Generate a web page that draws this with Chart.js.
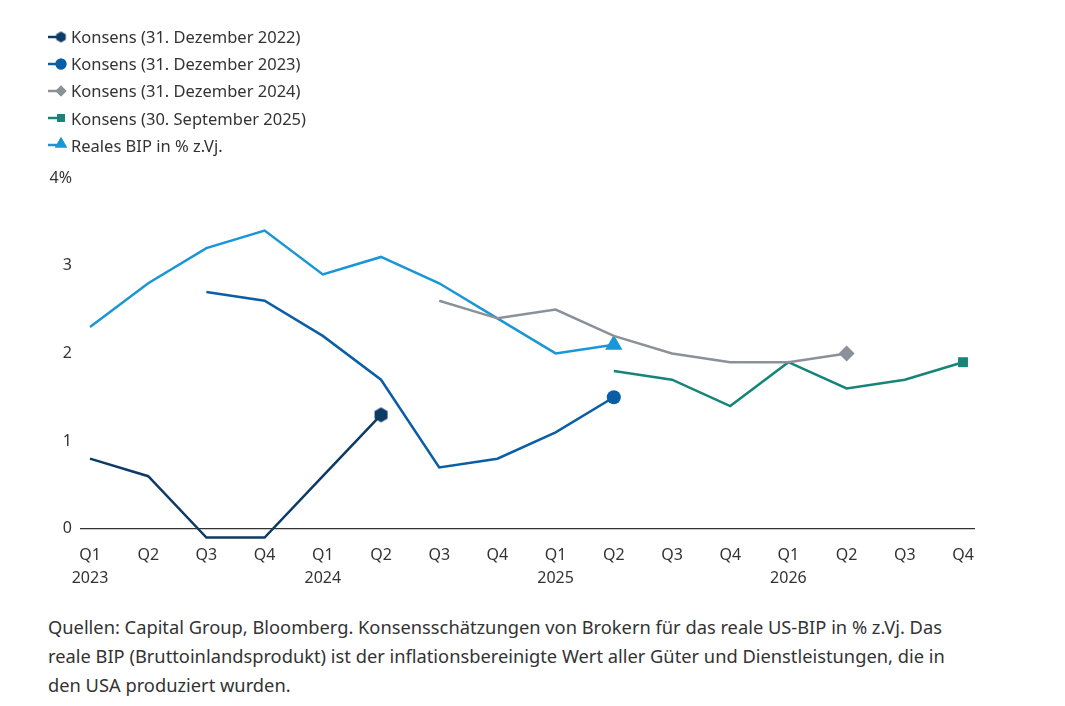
<!DOCTYPE html>
<html>
<head>
<meta charset="utf-8">
<script src="https://cdn.jsdelivr.net/npm/chart.js@4.4.1/dist/chart.umd.min.js"></script>
<style>
  body { margin: 0; background: #fff; font-family: "Noto Sans", Lato, sans-serif; color: #333; }
  #wrap { position: relative; width: 1065px; height: 600px; }
  #legend { position: absolute; left: 46px; top: 23px; }
  .item { height: 27.2px; display: flex; align-items: center; font-size: 16.5px; color: #333; }
  .item canvas { margin-right: 3px; }
  #note { position: absolute; left: 48px; top: 612px; font-size: 18.3px; line-height: 29px; color: #333; white-space: nowrap; }
</style>
</head>
<body>
<div id="wrap">
  <canvas id="chart" width="1065" height="600"></canvas>
  <div id="legend"></div>
</div>
<div id="note">Quellen: Capital Group, Bloomberg. Konsensschätzungen von Brokern für das reale US-BIP in % z.Vj. Das<br>reale BIP (Bruttoinlandsprodukt) ist der inflationsbereinigte Wert aller Güter und Dienstleistungen, die in<br>den USA produziert wurden.</div>
<script>
// Quartale Q1 2023 .. Q4 2026
const quarters = ['Q1','Q2','Q3','Q4','Q1','Q2','Q3','Q4','Q1','Q2','Q3','Q4','Q1','Q2','Q3','Q4'];
const years    = ['2023','','','','2024','','','','2025','','','','2026','','',''];
const yTicks = [0, 1, 2, 3, 4];

const konsens2022 = [0.8, 0.6, -0.1, -0.1, 0.6, 1.3, null, null, null, null, null, null, null, null, null, null];
const konsens2023 = [null, null, 2.7, 2.6, 2.2, 1.7, 0.7, 0.8, 1.1, 1.5, null, null, null, null, null, null];
const konsens2024 = [null, null, null, null, null, null, 2.6, 2.4, 2.5, 2.2, 2.0, 1.9, 1.9, 2.0, null, null];
const konsens2025 = [null, null, null, null, null, null, null, null, null, 1.8, 1.7, 1.4, 1.9, 1.6, 1.7, 1.9];
const realesBIP   = [2.3, 2.8, 3.2, 3.4, 2.9, 3.1, 2.8, 2.4, 2.0, 2.1, null, null, null, null, null, null];

const FONT = '"Noto Sans", Lato, sans-serif';

function hexagon(color, r) {
  const c = document.createElement('canvas');
  c.width = c.height = r * 2 + 2;
  const g = c.getContext('2d');
  g.fillStyle = color;
  g.beginPath();
  for (let i = 0; i < 6; i++) {
    const a = Math.PI / 6 + i * Math.PI / 3;
    const x = r + 1 + r * Math.cos(a), y = r + 1 + r * Math.sin(a);
    i ? g.lineTo(x, y) : g.moveTo(x, y);
  }
  g.closePath();
  g.fill();
  return c;
}

const series = [
  { label: 'Konsens (31. Dezember 2022)', data: konsens2022, color: '#0c3b66', style: hexagon('#0c3b66', 7.5), radius: 7.5 },
  { label: 'Konsens (31. Dezember 2023)', data: konsens2023, color: '#0a5ea6', style: 'circle', radius: 7 },
  { label: 'Konsens (31. Dezember 2024)', data: konsens2024, color: '#8a9198', style: 'rectRot', radius: 8 },
  { label: 'Konsens (30. September 2025)', data: konsens2025, color: '#178479', style: 'rect', radius: 7 },
  { label: 'Reales BIP in % z.Vj.', data: realesBIP, color: '#1996d5', style: 'triangle', radius: 10 },
];

const datasets = series.map(s => {
  const pts = s.data.map((y, x) => ({ x, y })).filter(p => p.y !== null);
  return {
    label: s.label,
    data: pts,
    borderColor: s.color,
    backgroundColor: s.color,
    borderWidth: 2.5,
    tension: 0,
    pointStyle: s.style,
    pointRadius: pts.map((_, i) => i === pts.length - 1 ? s.radius : 0),
    pointHoverRadius: 0,
    pointBorderWidth: 0,
  };
});

new Chart(document.getElementById('chart'), {
  type: 'line',
  data: { datasets },
  options: {
    responsive: false,
    animation: false,
    layout: { padding: { top: 178, right: 90, left: 0, bottom: 0 } },
    plugins: { legend: { display: false }, tooltip: { enabled: false } },
    scales: {
      x: {
        type: 'linear',
        min: -0.172,
        max: 15.206,
        afterBuildTicks: scale => { scale.ticks = quarters.map((_, i) => ({ value: i })); },
        afterFit: scale => { scale.height = 58; },
        grid: { display: false },
        border: { display: false },
        ticks: {
          padding: -6,
          color: '#333',
          font: { family: FONT, size: 16, lineHeight: 1.44 },
          maxRotation: 0,
          autoSkip: false,
          callback: v => years[v] ? [quarters[v], years[v]] : quarters[v],
        },
      },
      y: {
        min: -0.15,
        max: 4,
        afterBuildTicks: scale => { scale.ticks = yTicks.map(v => ({ value: v })); },
        afterFit: scale => { scale.width = 80; },
        border: { display: false },
        grid: {
          drawTicks: false,
          color: c => c.tick && c.tick.value === 0 ? '#333' : 'transparent',
          lineWidth: 1.2,
        },
        ticks: {
          padding: 8,
          color: '#333',
          font: { family: FONT, size: 16 },
          callback: v => v === 4 ? '4%' : String(v),
        },
      },
    },
  },
});

// HTML-Legende: kurze Linie + Marker wie im Original
const legend = document.getElementById('legend');
series.forEach(s => {
  const item = document.createElement('div');
  item.className = 'item';
  const ic = document.createElement('canvas');
  ic.width = 22; ic.height = 16;
  const g = ic.getContext('2d');
  g.strokeStyle = s.color; g.fillStyle = s.color; g.lineWidth = 2.5;
  g.beginPath(); g.moveTo(2, 8); g.lineTo(14, 8); g.stroke();
  const r = 5.5;
  if (typeof s.style !== 'string') {
    g.drawImage(hexagon(s.color, r), 15 - r - 1, 8 - r - 1);
  } else {
    const tri = s.style === 'triangle';
    Chart.helpers.drawPoint(g, { pointStyle: s.style, radius: tri ? 7 : r, rotation: 0, borderWidth: 0 }, 15, tri ? 7 : 8);
    g.fill();
  }
  item.appendChild(ic);
  const t = document.createElement('span');
  t.textContent = s.label;
  item.appendChild(t);
  legend.appendChild(item);
});
</script>
</body>
</html>
